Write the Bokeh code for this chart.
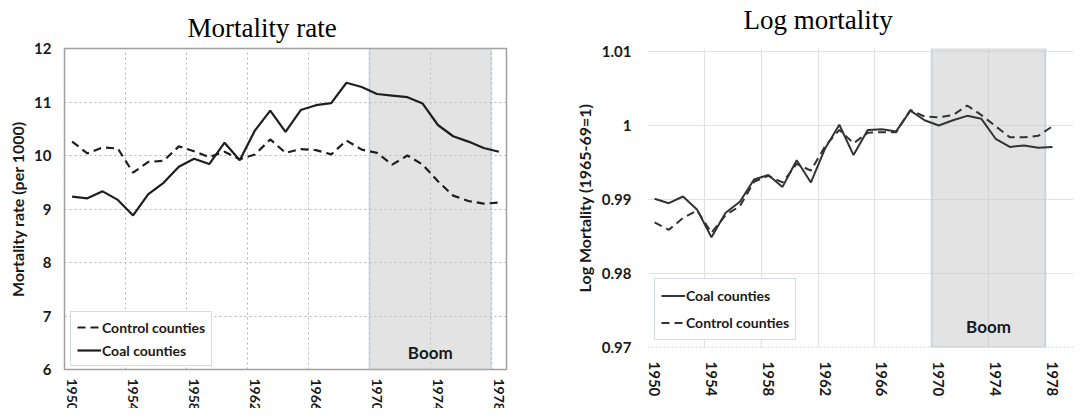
import math
from bokeh.plotting import figure
from bokeh.layouts import row
from bokeh.models import (FixedTicker, BoxAnnotation, Label, Legend, LegendItem,
                          Span, NumeralTickFormatter, Title)
from bokeh.embed import file_html
from bokeh.resources import INLINE

years = [1950, 1951, 1952, 1953, 1954, 1955, 1956, 1957, 1958, 1959,
         1960, 1961, 1962, 1963, 1964, 1965, 1966, 1967, 1968, 1969,
         1970, 1971, 1972, 1973, 1974, 1975, 1976, 1977, 1978]
year_labels = [1950, 1954, 1958, 1962, 1966, 1970, 1974, 1978]

coal_rate = [9.23, 9.20, 9.33, 9.17, 8.88, 9.28, 9.49, 9.79, 9.94, 9.84,
             10.24, 9.91, 10.47, 10.84, 10.44, 10.85, 10.94, 10.98, 11.36, 11.28,
             11.15, 11.12, 11.09, 10.97, 10.57, 10.36, 10.26, 10.14, 10.07]
control_rate = [10.26, 10.04, 10.15, 10.13, 9.68, 9.88, 9.90, 10.17, 10.08, 9.97,
                10.07, 9.93, 10.02, 10.30, 10.05, 10.12, 10.10, 10.02, 10.28, 10.11,
                10.05, 9.83, 10.00, 9.83, 9.52, 9.25, 9.15, 9.10, 9.12]

coal_log = [0.9901, 0.9895, 0.9904, 0.9886, 0.9849, 0.9882, 0.9897, 0.9927, 0.9933, 0.9917,
            0.9953, 0.9923, 0.9969, 1.0001, 0.9960, 0.9994, 0.9995, 0.9992, 1.0020, 1.0007,
            1.0000, 1.0007, 1.0013, 1.0009, 0.9982, 0.9971, 0.9973, 0.9970, 0.9971]
control_log = [0.9869, 0.9859, 0.9875, 0.9885, 0.9855, 0.9879, 0.9891, 0.9924, 0.9932, 0.9923,
               0.9948, 0.9939, 0.9972, 0.9994, 0.9976, 0.9990, 0.9991, 0.9991, 1.0021, 1.0012,
               1.0011, 1.0014, 1.0027, 1.0014, 0.9999, 0.9984, 0.9984, 0.9986, 0.9999]

boom_start, boom_end = 1969.5, 1977.5
boundaries = [1949.5, 1953.5, 1957.5, 1961.5, 1965.5, 1969.5, 1973.5, 1977.5]

SANS = "Lato"
SERIF = "Liberation Serif"
DASH = "8 5"


def style_axes(p, ylabel, y_ticks):
    p.xaxis.ticker = FixedTicker(ticks=year_labels)
    p.yaxis.ticker = FixedTicker(ticks=y_ticks)
    p.xaxis.major_label_orientation = -math.pi / 2
    for ax in (p.xaxis[0], p.yaxis[0]):
        ax.axis_line_color = None
        ax.major_tick_out = 0
        ax.major_tick_in = 0
        ax.minor_tick_out = 0
        ax.minor_tick_in = 0
        ax.major_label_text_font = SANS
        ax.major_label_text_font_style = "bold"
        ax.major_label_text_font_size = "15px"
        ax.major_label_text_color = "#1a1a1a"
    p.xaxis.major_label_standoff = 14
    p.yaxis.axis_label = ylabel
    p.yaxis.axis_label_text_font = SANS
    p.yaxis.axis_label_text_font_style = "bold"
    p.yaxis.axis_label_text_font_size = "16px"
    p.yaxis.axis_label_text_color = "#1a1a1a"


def add_titles(p, text, offset, gap):
    # spacer (closest to frame) then the visible title further out
    p.add_layout(Title(text=" ", text_font_size="1px", standoff=gap), "above")
    p.add_layout(Title(text=text, align="left", offset=offset, standoff=2,
                       text_font=SERIF, text_font_style="normal",
                       text_font_size="27px", text_color="#000000"), "above")


# ---------------- Left: Mortality rate ----------------
p1 = figure(frame_width=442, frame_height=321, x_range=(1949.5, 1978.5), y_range=(6, 12),
            output_backend="svg", toolbar_location=None,
            min_border_left=64, min_border_right=43, min_border_top=42,
            min_border_bottom=45)
style_axes(p1, "Mortality rate (per 1000)", [6, 7, 8, 9, 10, 11, 12])
p1.xaxis.major_label_text_font_size = "14px"
p1.xaxis.major_label_standoff = 9
p1.yaxis.major_label_standoff = 13
p1.yaxis.axis_label_standoff = 4
add_titles(p1, "Mortality rate", 123, 2)
p1.xgrid.ticker = FixedTicker(ticks=boundaries[1:])
p1.ygrid.ticker = FixedTicker(ticks=[7, 8, 9, 10, 11])
for g in (p1.xgrid[0], p1.ygrid[0]):
    g.grid_line_color = "#b5b5b5"
    g.grid_line_dash = "2 3"
    g.grid_line_width = 1
p1.outline_line_color = "#a0a0a0"
p1.outline_line_width = 1.5

box1 = BoxAnnotation(left=boom_start, right=boom_end, fill_color="#c8c8c8",
                     fill_alpha=0.5, line_color="#a3b8cf", line_width=2,
                     level="underlay")
p1.add_layout(box1)

r_ctrl1 = p1.line(years, control_rate, line_color="#1e1e1e", line_width=2.2,
                  line_dash=DASH)
r_coal1 = p1.line(years, coal_rate, line_color="#1e1e1e", line_width=2.2)

p1.add_layout(Label(x=1973.5, y=6, y_offset=7, text="Boom", text_align="center",
                    text_baseline="bottom", text_font=SANS, text_font_style="bold",
                    text_font_size="17px", text_color="#1a1a1a"))

leg1 = Legend(items=[LegendItem(label="Control counties", renderers=[r_ctrl1]),
                     LegendItem(label="Coal counties", renderers=[r_coal1])],
              location=(6, 3), glyph_height=18, spacing=5, padding=6)
p1.add_layout(leg1)

# ---------------- Right: Log mortality ----------------
p2 = figure(frame_width=426, frame_height=299, x_range=(1949.5, 1979.48),
            y_range=(0.97, 1.0104),
            output_backend="svg", toolbar_location=None,
            min_border_left=98, min_border_right=0, min_border_top=48,
            min_border_bottom=55)
style_axes(p2, "Log Mortality (1965-69=1)", [0.97, 0.98, 0.99, 1.0, 1.01])
p2.yaxis.formatter = NumeralTickFormatter(format="0.[00]")
p2.yaxis.major_label_standoff = 16
p2.yaxis.axis_label_standoff = 5
add_titles(p2, "Log mortality", 96, 10)
p2.xgrid.ticker = FixedTicker(ticks=boundaries)
p2.ygrid.ticker = FixedTicker(ticks=[0.98, 0.99, 1.0, 1.01])
for g in (p2.xgrid[0], p2.ygrid[0]):
    g.grid_line_color = "#e2e2e2"
    g.grid_line_width = 1.2
p2.outline_line_color = None
p2.add_layout(Span(location=0.97, dimension="width", line_color="#bdbdbd",
                   line_dash="2 2", line_width=1.5, level="underlay"))

box2 = BoxAnnotation(left=boom_start, right=boom_end, bottom=0.97, top=1.0104,
                     fill_color="#c8c8c8", fill_alpha=0.5, line_color="#a3b8cf",
                     line_width=2, level="underlay")
p2.add_layout(box2)

r_coal2 = p2.line(years, coal_log, line_color="#333333", line_width=2)
r_ctrl2 = p2.line(years, control_log, line_color="#333333", line_width=2,
                  line_dash=DASH)

p2.add_layout(Label(x=1973.5, y=0.97, y_offset=11, text="Boom", text_align="center",
                    text_baseline="bottom", text_font=SANS, text_font_style="bold",
                    text_font_size="17px", text_color="#1a1a1a"))

leg2 = Legend(items=[LegendItem(label="Coal counties", renderers=[r_coal2]),
                     LegendItem(label="Control counties", renderers=[r_ctrl2])],
              location=(7, 7), glyph_height=21, spacing=6, padding=6)
p2.add_layout(leg2)

for leg in (leg1, leg2):
    leg.border_line_color = "#a8b8c8"
    leg.border_line_width = 1.2
    leg.background_fill_color = "white"
    leg.background_fill_alpha = 1
    leg.label_text_font = SANS
    leg.label_text_font_style = "bold"
    leg.label_text_font_size = "14px"
    leg.label_text_color = "#1a1a1a"
    leg.glyph_width = 24
    leg.label_standoff = 1
    leg.margin = 0

layout = row(p1, p2)
open("out.html", "w").write(file_html(layout, INLINE))
